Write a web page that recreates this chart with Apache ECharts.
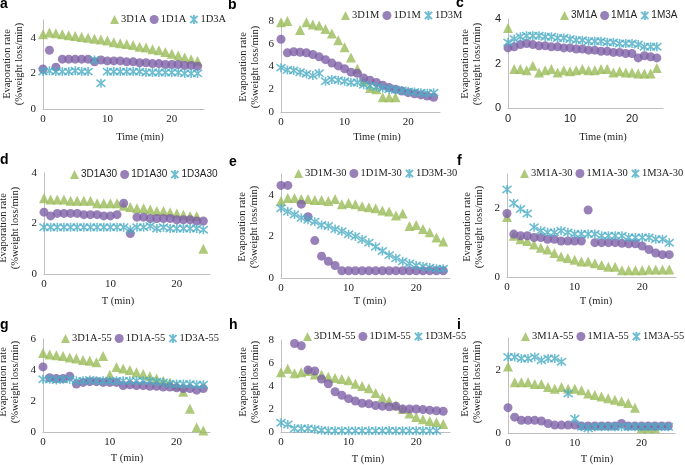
<!DOCTYPE html>
<html><head><meta charset="utf-8">
<script src="https://cdn.jsdelivr.net/npm/echarts@6/dist/echarts.min.js"></script>
<style>html,body{margin:0;padding:0;background:#fff}#c{width:685px;height:465px}</style>
</head><body><div id="c"></div>
<script>
// ---- data ----
const times = [0,1,2,3,4,5,6,7,8,9,10,11,12,13,14,15,16,17,18,19,20,21,22,23,24];
const xTickLabels = [0,10,20];
const yTickStep = 2;

// panel a
const a_3D1A = [4.2,4.3,4.25,4.2,4.15,4.1,4.05,4.0,3.95,3.9,3.85,3.75,3.7,3.65,3.6,3.5,3.45,3.35,3.3,3.2,3.1,3.0,2.9,2.8,2.7];
const a_1D1A = [2.25,3.3,2.35,2.8,2.8,2.8,2.8,2.8,2.65,2.75,2.7,2.7,2.7,2.65,2.65,2.6,2.6,2.55,2.55,2.5,2.5,2.5,2.45,2.45,2.4];
const a_1D3A = [2.1,2.15,2.1,2.1,2.1,2.15,2.1,2.1,2.75,1.45,2.1,2.1,2.1,2.1,2.1,2.1,2.05,2.05,2.05,2.05,2.05,2.05,2.0,2.0,2.0];
// panel b
const b_3D1M = [7.9,8.0,null,7.2,7.9,7.7,7.6,7.3,6.9,6.3,5.7,4.8,3.8,2.7,2.1,2.0,1.3,1.3,1.3,null,null,null,null,null,null];
const b_1D1M = [6.4,5.2,5.3,5.25,5.2,5.05,4.85,4.6,4.3,4.05,3.8,3.5,3.4,3.0,2.8,2.6,2.35,2.15,2.0,1.85,1.7,1.6,1.5,1.4,1.3];
const b_1D3M = [3.9,3.7,3.65,3.5,3.35,3.2,3.4,2.7,2.85,2.8,2.7,2.6,2.6,2.4,2.3,2.2,2.1,2.0,1.95,1.9,1.8,1.75,1.7,1.65,1.7];
// panel c
const c_3M1A = [3.6,1.75,1.75,1.7,1.9,1.6,1.7,1.75,1.6,1.7,1.65,1.7,1.75,1.7,1.7,1.75,1.75,1.6,1.65,1.6,1.6,1.55,1.55,1.55,1.8];
const c_1M1A = [2.7,2.75,2.85,2.9,2.85,2.8,2.8,2.75,2.75,2.7,2.7,2.65,2.65,2.6,2.6,2.55,2.55,2.5,2.5,2.45,2.45,2.25,2.35,2.3,2.25];
const c_1M3A = [2.95,3.1,3.2,3.25,3.25,3.25,3.2,3.2,3.15,3.15,3.1,3.05,3.05,3.0,3.0,3.0,2.95,2.95,2.9,2.9,2.9,2.85,2.75,2.75,2.75];
// panel d
const d_3D1A30 = [3.0,2.95,2.95,2.95,2.9,2.9,2.9,2.9,2.8,2.8,2.8,2.8,2.7,2.65,2.6,2.6,2.55,2.5,2.5,2.45,2.4,2.35,2.3,2.3,1.0];
const d_1D1A30 = [2.45,2.3,2.4,2.4,2.4,2.4,2.35,2.35,2.35,2.3,2.3,2.35,2.8,1.6,2.25,2.25,2.2,2.2,2.2,2.2,2.15,2.15,2.15,2.1,2.1];
const d_1D3A30 = [1.85,1.85,1.85,1.85,1.85,1.85,1.85,1.85,1.85,1.85,1.85,1.85,1.85,1.75,1.85,1.85,1.9,1.8,1.85,1.8,1.8,1.8,1.8,1.8,1.75];
// panel e
const e_3D1M30 = [3.7,3.85,3.85,3.8,3.8,3.75,3.75,3.7,3.8,3.55,3.6,3.55,3.45,3.4,3.35,3.25,3.2,3.0,3.1,2.5,2.55,2.35,2.2,1.95,1.75];
const e_1D1M30 = [4.45,4.45,null,3.55,2.95,1.8,1.05,0.8,0.6,0.35,0.35,0.35,0.35,0.35,0.35,0.35,0.35,0.35,0.35,0.35,0.35,0.35,0.35,0.35,0.35];
const e_1D3M30 = [3.35,3.2,3.05,2.9,2.8,2.7,2.55,2.5,2.35,2.25,2.1,2.0,1.85,1.7,1.5,1.3,1.1,0.95,0.8,0.7,0.6,0.55,0.5,0.45,0.45];
// panel f
const f_3M1A30 = [1.75,1.2,1.1,1.05,0.95,0.85,0.8,0.7,0.6,0.55,0.5,0.45,0.45,0.4,0.35,0.3,0.3,0.2,0.2,0.2,0.2,0.22,0.22,0.22,0.22];
const f_1M1A30 = [1.85,1.25,1.2,1.2,1.15,1.15,1.1,1.1,1.05,1.05,1.05,1.05,1.95,1.0,1.0,1.0,1.0,0.98,0.97,0.97,0.9,0.8,0.7,0.65,0.65];
const f_1M3A30 = [2.55,2.15,1.98,1.85,1.45,1.35,1.3,1.3,1.35,1.3,1.25,1.25,1.25,1.25,1.2,1.2,1.2,1.2,1.15,1.15,1.15,1.15,1.1,1.1,1.0];
// panel g
const g_3D1A55 = [5.1,5.0,4.95,4.9,4.8,4.75,4.65,4.6,4.5,4.9,3.7,4.2,4.1,4.0,3.85,3.75,3.6,3.45,3.3,3.2,3.0,2.6,1.5,0.3,0.1];
const g_1D1A55 = [4.2,3.5,3.45,3.45,3.6,3.1,3.2,3.25,3.25,3.2,3.2,3.2,3.0,3.05,3.0,3.0,2.95,2.95,2.9,2.9,2.85,2.8,2.8,2.7,2.8];
const g_1D3A55 = [3.4,3.4,3.35,3.4,3.4,3.3,3.3,3.35,3.3,3.3,3.3,3.3,3.3,3.3,3.3,3.3,3.3,3.25,3.2,3.1,3.1,3.1,3.1,3.05,3.05];
// panel h
const h_3D1M55 = [5.2,5.5,5.1,5.2,5.3,5.0,5.0,4.8,4.7,4.6,4.5,4.2,4.0,3.8,3.4,3.0,2.7,2.3,2.0,1.6,1.3,1.1,0.95,0.85,0.7];
const h_1D1M55 = [null,null,7.7,7.5,5.4,5.3,4.6,4.2,3.5,3.2,2.9,2.7,2.5,2.45,2.3,2.25,2.2,2.25,2.0,2.0,2.0,1.95,1.9,1.85,1.8];
const h_1D3M55 = [0.8,0.65,0.3,0.3,0.3,0.25,0.15,0.1,0.1,0.1,0.1,0.1,0.1,0.1,0.1,0.1,0.12,0.1,0.1,0.1,0.1,0.1,0.1,0.1,null];
// panel i
const i_3M1A55 = [2.1,1.6,1.6,1.6,1.55,1.55,1.45,1.4,1.45,1.4,1.4,1.35,1.25,1.2,1.15,1.1,1.05,1.0,0.95,0.8,0.15,0.15,0.15,null,null];
const i_1M1A55 = [0.8,0.5,0.4,0.4,0.4,0.38,0.3,0.25,0.25,0.25,0.25,0.22,0.22,0.22,0.22,0.22,0.22,0.3,0.22,0.22,0.22,0.22,0.22,0.22,0.22];
const i_1M3A55 = [2.4,2.4,2.35,2.35,2.4,2.3,2.35,2.35,2.25,1.25,0.45,0.2,0.15,0.2,0.2,0.2,0.2,0.2,0.2,0.2,0.2,0.2,0.2,0.2,0.2];

// ---- layout ----
const SERIF = '"Liberation Serif","Times New Roman",serif';
const SANS = '"Liberation Sans",Arial,sans-serif';
const COLORS = ['#9BBB59','#7E60A6','#4BACC6'];
const STAR = 'path://M1,1L9,9M9,1L1,9M5,0L5,10';
const TXT = '#222';

const panels = [
 {L:'a',g:[43,20,161,89],ymax:5,xt:'Time (min)',names:['3D1A','1D1A','1D3A'],d:[a_3D1A,a_1D1A,a_1D3A],lg:[110,14],tf:SERIF,lf:SERIF,xtp:[140,137],ytp:[13,64],lp:[0,5]},
 {L:'b',g:[281,21,159,91],ymax:8,xt:'Time (min)',names:['3D1M','1D1M','1D3M'],d:[b_3D1M,b_1D1M,b_1D3M],lg:[341,10],tf:SERIF,lf:SERIF,xtp:[377,137],ytp:[249,67],lp:[228,6]},
 {L:'c',g:[508,19,155,89],ymax:4,xt:'Time (min)',names:['3M1A','1M1A','1M3A'],d:[c_3M1A,c_1M1A,c_1M3A],lg:[560,10],tf:SANS,lf:SANS,xtp:[603,137],ytp:[471,64],lp:[456,4]},
 {L:'d',g:[44,173,166,101],ymax:4,xt:'T (min)',names:['3D1A30','1D1A30','1D3A30'],d:[d_3D1A30,d_1D1A30,d_1D3A30],lg:[70,169],tf:SERIF,lf:SANS,xtp:[118,301],ytp:[9,228],lp:[0,161]},
 {L:'e',g:[281,174,169,104],ymax:5,xt:'T (min)',names:['3D1M-30','1D1M-30','1D3M-30'],d:[e_3D1M30,e_1D1M30,e_1D3M30],lg:[294,168],tf:SERIF,lf:SERIF,xtp:[370,301],ytp:[248,227],lp:[229,163]},
 {L:'f',g:[507,174,169,103],ymax:3,xt:'T (min)',names:['3M1A-30','1M1A-30','1M3A-30'],d:[f_3M1A30,f_1M1A30,f_1M3A30],lg:[520,168],tf:SERIF,lf:SERIF,xtp:[596,301],ytp:[473,227],lp:[457,162]},
 {L:'g',g:[43,339,167,93],ymax:6,xt:'T (min)',names:['3D1A-55','1D1A-55','1D3A-55'],d:[g_3D1A55,g_1D1A55,g_1D3A55],lg:[61,333],tf:SERIF,lf:SERIF,xtp:[127,458],ytp:[9,382],lp:[0,326]},
 {L:'h',g:[281,340,169,92],ymax:8,xt:'T (min)',names:['3D1M-55','1D1M-55','1D3M-55'],d:[h_3D1M55,h_1D1M55,h_1D3M55],lg:[303,331],tf:SERIF,lf:SERIF,xtp:[368,459],ytp:[249,382],lp:[229,326]},
 {L:'i',g:[508,338,167,95],ymax:3,xt:'T (min)',names:['3M1A-55','1M1A-55','1M3A-55'],d:[i_3M1A55,i_1M1A55,i_1M3A55],lg:[521,331],tf:SERIF,lf:SERIF,xtp:[597,459],ytp:[471,382],lp:[457,326]}
];

const symbols = ['triangle','circle',STAR];
const grids=[], xAxes=[], yAxes=[], series=[], legends=[], graphics=[];
panels.forEach((p,k)=>{
  grids.push({left:p.g[0],top:p.g[1],width:p.g[2],height:p.g[3]});
  const axisCommon = {axisLine:{show:true,lineStyle:{color:'#BFBFBF',width:1}},axisTick:{show:false},splitLine:{show:false}};
  xAxes.push(Object.assign({gridIndex:k,type:'value',min:0,max:25,interval:xTickLabels[1]-xTickLabels[0],
    axisLabel:{fontFamily:p.tf,fontSize:11,color:TXT,margin:5,showMaxLabel:false}},axisCommon));
  yAxes.push(Object.assign({gridIndex:k,type:'value',min:0,max:p.ymax,interval:yTickStep,
    axisLabel:{fontFamily:p.tf,fontSize:11,color:TXT,margin:7,showMaxLabel:p.ymax%yTickStep===0}},axisCommon));
  p.names.forEach((nm,j)=>{
    const isStar = j===2;
    series.push({
      type:'scatter',name:nm,xAxisIndex:k,yAxisIndex:k,
      symbol:symbols[j],symbolSize:isStar?9:(j===0?10:9),
      itemStyle:isStar?{color:'rgba(0,0,0,0)',borderColor:COLORS[j],borderWidth:1.6}:{color:COLORS[j]},
      emphasis:{disabled:true},
      data:times.map((t,i)=>[t,p.d[j][i]]).filter(v=>v[1]!==null),
      z:2+j
    });
  });
  legends.push({data:p.names,left:p.lg[0],top:p.lg[1],itemWidth:9,itemHeight:9,itemGap:3,selectedMode:false,padding:0,
    textStyle:{fontFamily:p.lf,fontSize:p.lf===SANS?10:10.5,color:TXT,padding:[0,0,0,-3]}});
  graphics.push({type:'text',left:p.lp[0],top:p.lp[1]-8,style:{text:p.L,font:'bold 14px '+SANS,fill:'#000'}});
  graphics.push({type:'text',x:p.xtp[0],y:p.xtp[1],style:{text:p.xt,font:'10.5px '+SERIF,fill:TXT,textAlign:'center',textVerticalAlign:'middle'}});
  graphics.push({type:'text',x:p.ytp[0],y:p.ytp[1],rotation:Math.PI/2,style:{text:'Evaporation rate\n(%weight loss/min)',font:'10.5px '+SERIF,fill:TXT,textAlign:'center',textVerticalAlign:'middle',lineHeight:12}});
});

const chart = echarts.init(document.getElementById('c'),null,{renderer:'canvas'});
chart.setOption({animation:false,backgroundColor:'#fff',grid:grids,xAxis:xAxes,yAxis:yAxes,series:series,legend:legends,graphic:graphics});
</script></body></html>
